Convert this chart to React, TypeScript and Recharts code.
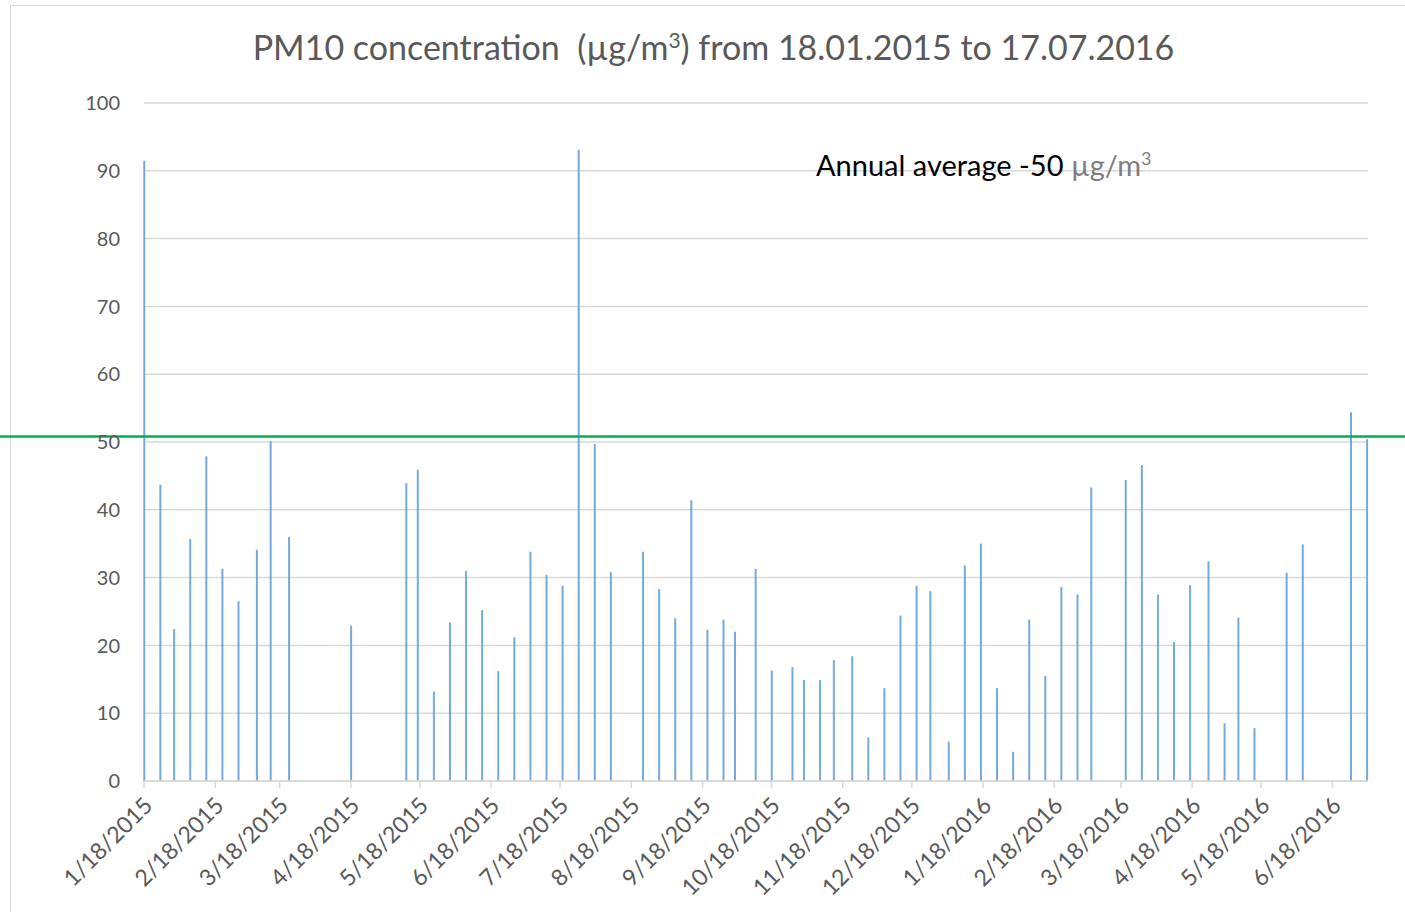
import React from 'react';
import {
  ComposedChart,
  Bar,
  XAxis,
  YAxis,
  CartesianGrid,
  ReferenceLine,
} from 'recharts';

// days since 18.01.2015 for each sample
const sampleDays = [
  0, 7, 13, 20, 27, 34, 41, 49, 55, 63, 90, 114, 119, 126, 133, 140, 147, 154, 161, 168,
  175, 182, 189, 196, 203, 217, 224, 231, 238, 245, 252, 257, 266, 273, 282, 287, 294, 300,
  308, 315, 322, 329, 336, 342, 350, 357, 364, 371, 378, 385, 392, 399, 406, 412, 427, 434,
  441, 448, 455, 463, 470, 476, 483, 497, 504, 525, 532,
];

const pm10 = [
  91.5, 43.7, 22.4, 35.7, 47.9, 31.3, 26.5, 34.1, 50.1, 36.0, 22.9, 43.9, 45.9, 13.2, 23.4,
  31.0, 25.2, 16.2, 21.2, 33.8, 30.4, 28.8, 93.1, 49.7, 30.8, 33.8, 28.3, 24.0, 41.4, 22.3,
  23.8, 22.0, 31.3, 16.3, 16.8, 14.9, 14.9, 17.8, 18.4, 6.4, 13.7, 24.4, 28.8, 28.0, 5.8,
  31.8, 35.0, 13.7, 4.3, 23.8, 15.5, 28.6, 27.5, 43.3, 44.4, 46.6, 27.5, 20.5, 28.9, 32.4,
  8.5, 24.1, 7.8, 30.7, 34.9, 54.4, 50.4,
];

const tickDays = [0, 31, 59, 90, 120, 151, 181, 212, 243, 273, 304, 334, 365, 396, 425, 456, 486, 517];
const tickLabels = [
  '1/18/2015', '2/18/2015', '3/18/2015', '4/18/2015', '5/18/2015', '6/18/2015',
  '7/18/2015', '8/18/2015', '9/18/2015', '10/18/2015', '11/18/2015', '12/18/2015',
  '1/18/2016', '2/18/2016', '3/18/2016', '4/18/2016', '5/18/2016', '6/18/2016',
];
const yTicks = [0, 10, 20, 30, 40, 50, 60, 70, 80, 90, 100];
const averageLine = 50.8;

const chartData = sampleDays.map((day, i) => ({ day, value: pm10[i] }));

const FONT = 'Lato, "Open Sans", sans-serif';

const DateTick = (props: any) => {
  const { x, y, payload } = props;
  const idx = tickDays.indexOf(payload.value);
  return (
    <g transform={`translate(${x + 5},${y + 12})`}>
      <text
        transform="rotate(-45)"
        textAnchor="end"
        dy={7}
        fill="#595959"
        fontSize={23}
        fontFamily={FONT}
      >
        {idx >= 0 ? tickLabels[idx] : ''}
      </text>
    </g>
  );
};

export default function App() {
  return (
    <div
      style={{
        position: 'absolute',
        left: 0,
        top: 0,
        width: 1405,
        height: 912,
        overflow: 'hidden',
        background: '#fff',
        fontFamily: FONT,
      }}
    >
      {/* chart area border */}
      <div
        style={{
          position: 'absolute',
          left: 10,
          top: 5,
          width: 1420,
          height: 930,
          border: '1.5px solid #d9d9d9',
        }}
      />

      <div
        style={{
          position: 'absolute',
          left: 0,
          top: 26,
          width: 1427,
          textAlign: 'center',
          fontSize: 34,
          color: '#595959',
          whiteSpace: 'pre',
        }}
      >
        {'PM10 concentration  (µg/m'}
        <sup style={{ fontSize: 21 }}>3</sup>
        {') from 18.01.2015 to 17.07.2016'}
      </div>

      <ComposedChart
        width={1405}
        height={912}
        data={chartData}
        margin={{ top: 103, right: 37, left: 0, bottom: 0 }}
        style={{ position: 'absolute', left: 0, top: 0 }}
      >
        <CartesianGrid vertical={false} stroke="#d9d9d9" strokeWidth={1.5} />
        <XAxis
          dataKey="day"
          type="number"
          domain={[0, 532.5]}
          ticks={tickDays}
          interval={0}
          height={131}
          stroke="#d9d9d9"
          strokeWidth={1.5}
          tickSize={7}
          tick={<DateTick />}
        />
        <YAxis
          domain={[0, 100]}
          ticks={yTicks}
          width={144}
          axisLine={false}
          tickLine={false}
          tickSize={0}
          tickMargin={24}
          tick={{ fill: '#595959', fontSize: 20, fontFamily: FONT }}
        />
        <Bar
          dataKey="value"
          fill="#5b9bd5"
          fillOpacity={0.85}
          barSize={2}
          isAnimationActive={false}
        />
        <ReferenceLine
          y={averageLine}
          ifOverflow="visible"
          shape={(p: any) => (
            <line x1={0} x2={1405} y1={p.y1} y2={p.y2} stroke="#00b050" strokeWidth={2.5} />
          )}
        />
      </ComposedChart>

      <div
        style={{
          position: 'absolute',
          left: 816,
          top: 147,
          fontSize: 29,
          color: '#000',
          whiteSpace: 'pre',
        }}
      >
        {'Annual average -50 '}
        <span style={{ color: '#7f7f7f' }}>
          µg/m<sup style={{ fontSize: 18 }}>3</sup>
        </span>
      </div>
    </div>
  );
}
